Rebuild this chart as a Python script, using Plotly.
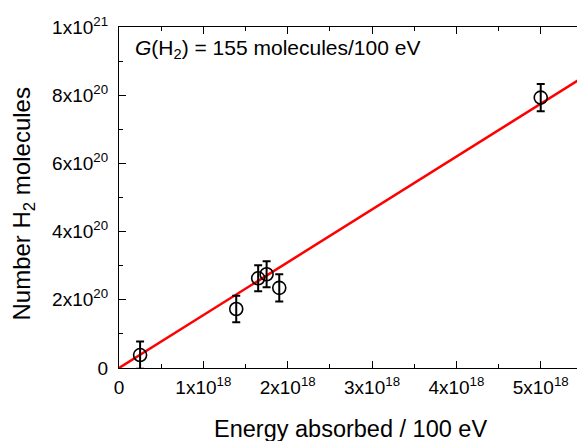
import plotly.graph_objects as go

# Data
energy = [0.25e18, 1.39e18, 1.65e18, 1.75e18, 1.90e18, 5.0e18]
h2 = [0.38e20, 1.73e20, 2.63e20, 2.75e20, 2.35e20, 7.93e20]
h2_err = [0.40e20, 0.39e20, 0.38e20, 0.38e20, 0.40e20, 0.40e20]
G = 155  # molecules per 100 eV
fit_x = [0, 5.6e18]
fit_y = [G * v for v in fit_x]

x_tickvals = [0, 1e18, 2e18, 3e18, 4e18, 5e18]
x_ticktext = ["0", "1x10<sup>18</sup>", "2x10<sup>18</sup>", "3x10<sup>18</sup>",
              "4x10<sup>18</sup>", "5x10<sup>18</sup>"]
y_tickvals = [0, 2e20, 4e20, 6e20, 8e20, 1e21]
y_ticktext = ["0", "2x10<sup>20</sup>", "4x10<sup>20</sup>", "6x10<sup>20</sup>",
              "8x10<sup>20</sup>", "1x10<sup>21</sup>"]

font = "Liberation Sans, Arial, sans-serif"

fig = go.Figure()
fig.add_trace(go.Scatter(
    x=fit_x, y=fit_y, mode="lines",
    line=dict(color="#ff0000", width=2.5), showlegend=False, hoverinfo="skip"))
fig.add_trace(go.Scatter(
    x=energy, y=h2, mode="markers",
    marker=dict(symbol="circle-open", size=13, color="black", line=dict(width=1.6, color="black")),
    error_y=dict(type="data", array=h2_err, color="black", thickness=2, width=4),
    showlegend=False))

fig.update_layout(
    width=577, height=441,
    margin=dict(l=119, r=0, t=27, b=73),
    paper_bgcolor="white", plot_bgcolor="white",
    font=dict(family=font, color="black"),
    xaxis=dict(range=[0, 5.43e18], tickmode="array", tickvals=x_tickvals, ticktext=x_ticktext,
               ticks="inside", ticklen=7, tickwidth=1, tickcolor="black",
               minor=dict(dtick=0.5e18, tick0=0, ticks="inside", ticklen=4, tickwidth=1, tickcolor="black"),
               showline=True, linecolor="black", linewidth=1.2, mirror="ticks",
               showgrid=False, zeroline=False, tickfont=dict(size=19, family=font),
               ticklabelstandoff=2),
    yaxis=dict(range=[0, 1e21], tickmode="array", tickvals=y_tickvals, ticktext=y_ticktext,
               ticks="inside", ticklen=7, tickwidth=1, tickcolor="black",
               minor=dict(dtick=1e20, tick0=0, ticks="inside", ticklen=4, tickwidth=1, tickcolor="black"),
               showline=True, linecolor="black", linewidth=1.2,
               showgrid=False, zeroline=False, tickfont=dict(size=19, family=font),
               ticklabelstandoff=6),
    annotations=[
        dict(text="<i>G</i>(H<sub>2</sub>) = 155 molecules/100 eV", xref="paper", yref="paper",
             x=0.03, y=0.935, xanchor="left", yanchor="middle", showarrow=False,
             font=dict(size=21, family=font)),
        dict(text="Energy absorbed / 100 eV", xref="paper", yref="paper",
             x=0.5, y=-0.178, xanchor="center", yanchor="middle", showarrow=False,
             font=dict(size=23.5, family=font), xshift=2),
        dict(text="Number H<sub>2</sub> molecules", xref="paper", yref="paper",
             x=0, y=0.5, xanchor="center", yanchor="middle", showarrow=False, textangle=-90,
             xshift=-96, yshift=-7, font=dict(size=24, family=font)),
    ],
)

fig.write_html("out.html")
